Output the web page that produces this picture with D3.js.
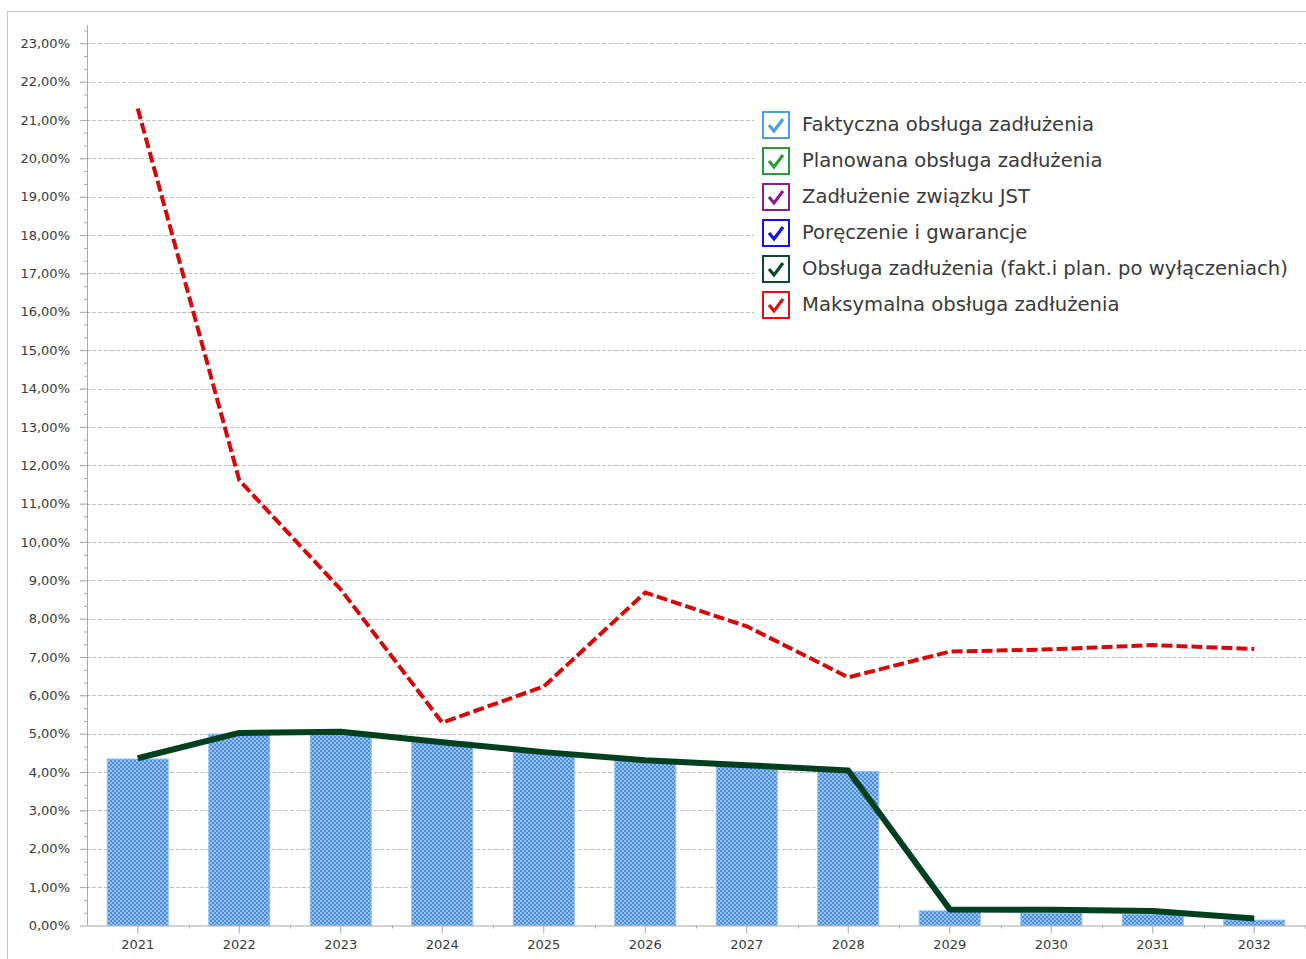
<!DOCTYPE html>
<html>
<head>
<meta charset="utf-8">
<script src="https://cdn.jsdelivr.net/npm/d3@7"></script>
<style>
  html, body { margin: 0; padding: 0; background: #fff; }
  svg { display: block; }
  .axis text { font-family: "DejaVu Sans", sans-serif; font-size: 13px; fill: #3a3a3a; }
  .legend text { font-family: "DejaVu Sans", sans-serif; font-size: 19.6px; fill: #3a3a3a; }
</style>
</head>
<body>
<div id="chart"></div>
<script>
// data (values in %)
const years = ["2021", "2022", "2023", "2024", "2025", "2026", "2027", "2028", "2029", "2030", "2031", "2032"];
const faktyczna = [4.34, 4.99, 5.02, 4.78, 4.50, 4.30, 4.15, 4.01, 0.38, 0.32, 0.29, 0.14];
const obsluga = [4.36, 5.02, 5.05, 4.78, 4.52, 4.31, 4.18, 4.04, 0.42, 0.41, 0.38, 0.18];
const maksymalna = [21.30, 11.61, 8.76, 5.29, 6.23, 8.68, 7.80, 6.47, 7.14, 7.20, 7.31, 7.21];
const yTicks = d3.range(0, 24);
const legendItems = [
    {label: "Faktyczna obsługa zadłużenia", color: "#4a9ee8"},
    {label: "Planowana obsługa zadłużenia", color: "#2e9a34"},
    {label: "Zadłużenie związku JST", color: "#8a1f8c"},
    {label: "Poręczenie i gwarancje", color: "#1010f0"},
    {label: "Obsługa zadłużenia (fakt.i plan. po wyłączeniach)", color: "#0d4a2a"},
    {label: "Maksymalna obsługa zadłużenia", color: "#e01010"}
];

const W = 1306, H = 959;
const plotLeft = 87, plotRight = 1305, plotTop = 30.5, plotBottom = 925.5;

const svg = d3.select("#chart").append("svg")
    .attr("width", W)
    .attr("height", H);

// bar fill pattern
const defs = svg.append("defs");
const pat = defs.append("pattern")
    .attr("id", "dots")
    .attr("patternUnits", "userSpaceOnUse")
    .attr("width", 4)
    .attr("height", 4);
pat.append("rect").attr("width", 4).attr("height", 4).attr("fill", "#468de0");
pat.append("circle").attr("cx", 1).attr("cy", 1).attr("r", 0.9).attr("fill", "#c2ddf8");
pat.append("circle").attr("cx", 3).attr("cy", 3).attr("r", 0.9).attr("fill", "#c2ddf8");

// outer frame
svg.append("rect")
    .attr("x", 7.5).attr("y", 11.5)
    .attr("width", W).attr("height", H)
    .attr("fill", "none")
    .attr("stroke", "#c4c4c4");

const x = d3.scaleBand()
    .domain(years)
    .range([plotLeft, plotRight])
    .paddingInner(0.4)
    .paddingOuter(0.2);

const y = d3.scaleLinear()
    .domain([0, 70 / 3])
    .range([plotBottom, plotTop]);

const cx = d => x(d) + x.bandwidth() / 2;

// gridlines
svg.append("g")
    .selectAll("line")
    .data(yTicks.filter(d => d > 0))
    .enter().append("line")
    .attr("x1", plotLeft - 7).attr("x2", W)
    .attr("y1", d => Math.round(y(d)) + 0.5)
    .attr("y2", d => Math.round(y(d)) + 0.5)
    .attr("stroke", "#c0c0c0")
    .attr("stroke-dasharray", "4,2");

// bars
svg.append("g")
    .selectAll("rect")
    .data(years)
    .enter().append("rect")
    .attr("x", d => x(d))
    .attr("y", (d, i) => y(faktyczna[i]))
    .attr("width", x.bandwidth())
    .attr("height", (d, i) => y(0) - y(faktyczna[i]))
    .attr("fill", "url(#dots)")
    .attr("stroke", "#8cbcee")
    .attr("stroke-width", 1);

// y axis
const yAxis = d3.axisLeft(y)
    .tickValues(yTicks)
    .tickSize(7)
    .tickPadding(10)
    .tickFormat(d => d.toFixed(2).replace(".", ",") + "%");

const yG = svg.append("g")
    .attr("class", "axis")
    .attr("transform", `translate(${plotLeft},0)`)
    .call(yAxis);
yG.select(".domain").remove();
yG.selectAll("line").attr("stroke", "#a8a8a8");

const minorY = d3.range(0, 71).filter(d => d % 3 !== 0).map(d => d / 3);
svg.append("g")
    .attr("transform", `translate(${plotLeft},0)`)
    .call(d3.axisLeft(y).tickValues(minorY).tickSize(3).tickFormat(""))
    .call(g => g.select(".domain").remove())
    .selectAll("line").attr("stroke", "#a8a8a8");

svg.append("line")
    .attr("x1", plotLeft + 0.5).attr("x2", plotLeft + 0.5)
    .attr("y1", 25).attr("y2", plotBottom)
    .attr("stroke", "#a8a8a8");

// x axis
const xAxis = d3.axisBottom(x)
    .tickSize(8)
    .tickPadding(6)
    .tickSizeOuter(0);

const xG = svg.append("g")
    .attr("class", "axis")
    .attr("transform", `translate(0,${plotBottom})`)
    .call(xAxis);
xG.select(".domain").attr("stroke", "#a8a8a8").attr("d", `M${plotLeft},0.5H${W}`);
xG.selectAll("line").attr("stroke", "#a8a8a8");

svg.append("g")
    .selectAll("line")
    .data(years)
    .enter().append("line")
    .attr("x1", d => Math.round(cx(d) + x.step() / 2) + 0.5)
    .attr("x2", d => Math.round(cx(d) + x.step() / 2) + 0.5)
    .attr("y1", plotBottom)
    .attr("y2", plotBottom + 3)
    .attr("stroke", "#a8a8a8");

// lines
const line = d3.line()
    .x((d, i) => cx(years[i]))
    .y(d => y(d));

svg.append("path")
    .datum(maksymalna)
    .attr("d", line)
    .attr("fill", "none")
    .attr("stroke", "#d40a0a")
    .attr("stroke-width", 4)
    .attr("stroke-dasharray", "11,4");

svg.append("path")
    .datum(obsluga)
    .attr("d", line)
    .attr("fill", "none")
    .attr("stroke", "#00401f")
    .attr("stroke-width", 6)
    .attr("stroke-linejoin", "round");

// legend
const legend = svg.append("g")
    .attr("class", "legend");

legend.append("rect")
    .attr("x", 754).attr("y", 104)
    .attr("width", 552).attr("height", 218)
    .attr("fill", "#fff");

const item = legend.selectAll("g")
    .data(legendItems)
    .enter().append("g")
    .attr("transform", (d, i) => `translate(762,${111 + i * 36})`);

item.append("rect")
    .attr("x", 1).attr("y", 1)
    .attr("width", 26).attr("height", 26)
    .attr("fill", "#fff")
    .attr("stroke", d => d.color)
    .attr("stroke-width", 2);

item.append("path")
    .attr("d", "M7,14 L12,20 L21,8")
    .attr("fill", "none")
    .attr("stroke", d => d.color)
    .attr("stroke-width", 3.2);

item.append("text")
    .attr("x", 40)
    .attr("y", 14)
    .attr("dy", "0.33em")
    .text(d => d.label);
</script>
</body>
</html>
